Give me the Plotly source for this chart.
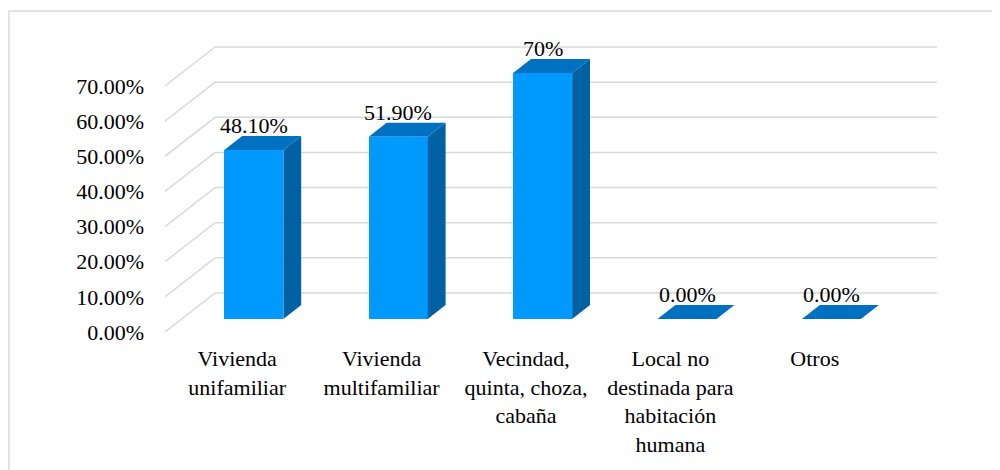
import plotly.graph_objects as go

# ---- data ----
categories = [
    "Vivienda<br>unifamiliar",
    "Vivienda<br>multifamiliar",
    "Vecindad,<br>quinta, choza,<br>cabaña",
    "Local no<br>destinada para<br>habitación<br>humana",
    "Otros",
]
values = [48.10, 51.90, 70.00, 0.00, 0.00]
value_labels = ["48.10%", "51.90%", "70%", "0.00%", "0.00%"]
y_ticks = [0, 10, 20, 30, 40, 50, 60, 70]
y_tick_labels = [f"{v:.2f}%" for v in y_ticks]

# ---- layout geometry (page pixels; page body has an 8px margin) ----
OFF = 8
W, H = 1000 - OFF, 470 - OFF
PLOT_LEFT, PLOT_RIGHT, PLOT_TOP, PLOT_BOTTOM = 165, 945, 40, 332
M_L = PLOT_LEFT - OFF
M_T = PLOT_TOP - OFF
M_R = W - (PLOT_RIGHT - OFF)
M_B = H - (PLOT_BOTTOM - OFF)
PLOT_W = PLOT_RIGHT - PLOT_LEFT
PLOT_H = PLOT_BOTTOM - PLOT_TOP
PX_PER_CAT = 144.4
PX_PER_PCT = 3.514
X0 = -0.5
X1 = X0 + PLOT_W / PX_PER_CAT
Y1 = PLOT_H / PX_PER_PCT

# full depth of the 3D floor (front -> back wall), in data units
DEPTH_DX = 50 / PX_PER_CAT
DEPTH_DY = 39 / PX_PER_PCT
D_FRONT = 0.333   # bar front face depth fraction
D_BACK = 0.69     # bar back face depth fraction
BAR_W = 59 / PX_PER_CAT

FONT = "Liberation Serif, Times New Roman, DejaVu Serif, serif"
FS = 22
C_FRONT = "#0099FF"
C_SIDE = "#0062A3"
C_TOP = "#0070C0"
C_GRID = "#D9D9D9"

fig = go.Figure()

# ---- 3D grid: back-wall lines + left-wall diagonals ----
shapes = []
for v in y_ticks:
    shapes.append(dict(type="line", xref="x", yref="y", layer="below",
                       x0=X0, y0=v, x1=X0 + DEPTH_DX, y1=v + DEPTH_DY,
                       line=dict(color=C_GRID, width=1.5)))
    shapes.append(dict(type="line", xref="x", yref="y", layer="below",
                       x0=X0 + DEPTH_DX, y0=v + DEPTH_DY,
                       x1=4.5 + DEPTH_DX, y1=v + DEPTH_DY,
                       line=dict(color=C_GRID, width=1.5)))

# chart border (top and left visible)
px2xp = lambda px: (px - PLOT_LEFT) / PLOT_W
py2yp = lambda py: 1 - (py - PLOT_TOP) / PLOT_H
shapes.append(dict(type="rect", xref="paper", yref="paper", layer="below",
                   x0=px2xp(9), x1=px2xp(1020), y0=py2yp(500), y1=py2yp(11),
                   line=dict(color=C_GRID, width=1.5), fillcolor="rgba(0,0,0,0)"))

# ---- bars ----
fdx = D_FRONT * DEPTH_DX
fdy = D_FRONT * DEPTH_DY
bdx = (D_BACK - D_FRONT) * DEPTH_DX
bdy = (D_BACK - D_FRONT) * DEPTH_DY
xs = list(range(len(values)))

fig.add_trace(go.Bar(
    x=[i + fdx for i in xs], y=values, base=[fdy] * len(values),
    width=BAR_W, marker=dict(color=C_FRONT, line=dict(width=0)),
    hoverinfo="skip", showlegend=False))

for i, v in zip(xs, values):
    xl = i + fdx - BAR_W / 2
    xr = i + fdx + BAR_W / 2
    yb = fdy
    yt = fdy + v
    if v > 0:
        fig.add_trace(go.Scatter(
            x=[xr, xr + bdx, xr + bdx, xr, xr],
            y=[yt, yt + bdy, yb + bdy, yb, yt],
            fill="toself", fillcolor=C_SIDE, mode="lines",
            line=dict(width=0, color=C_SIDE), hoverinfo="skip", showlegend=False))
    fig.add_trace(go.Scatter(
        x=[xl, xl + bdx, xr + bdx, xr, xl],
        y=[yt, yt + bdy, yt + bdy, yt, yt],
        fill="toself", fillcolor=C_TOP, mode="lines",
        line=dict(width=0, color=C_TOP), hoverinfo="skip", showlegend=False))

# ---- data labels ----
annotations = []
for i, v, lab in zip(xs, values, value_labels):
    annotations.append(dict(
        x=i + fdx, y=fdy + v + bdy, xref="x", yref="y",
        text=lab, showarrow=False, xanchor="center", yanchor="bottom",
        yshift=-4, font=dict(family=FONT, size=FS, color="black")))

fig.update_layout(
    width=W, height=H,
    margin=dict(l=M_L, r=M_R, t=M_T, b=M_B),
    paper_bgcolor="white", plot_bgcolor="rgba(0,0,0,0)",
    font=dict(family=FONT, size=FS, color="black"),
    shapes=shapes, annotations=annotations,
    bargap=0, showlegend=False,
    xaxis=dict(range=[X0, X1], showgrid=False, zeroline=False, showline=False,
               tickvals=xs, ticktext=categories, ticks="",
               tickfont=dict(family=FONT, size=FS, color="black"),
               ticklabelstandoff=11),
    yaxis=dict(range=[0, Y1], showgrid=False, zeroline=False, showline=False,
               tickvals=y_ticks, ticktext=y_tick_labels, ticks="",
               tickfont=dict(family=FONT, size=FS, color="black"),
               ticklabelstandoff=20),
)

fig.write_html("out.html")
